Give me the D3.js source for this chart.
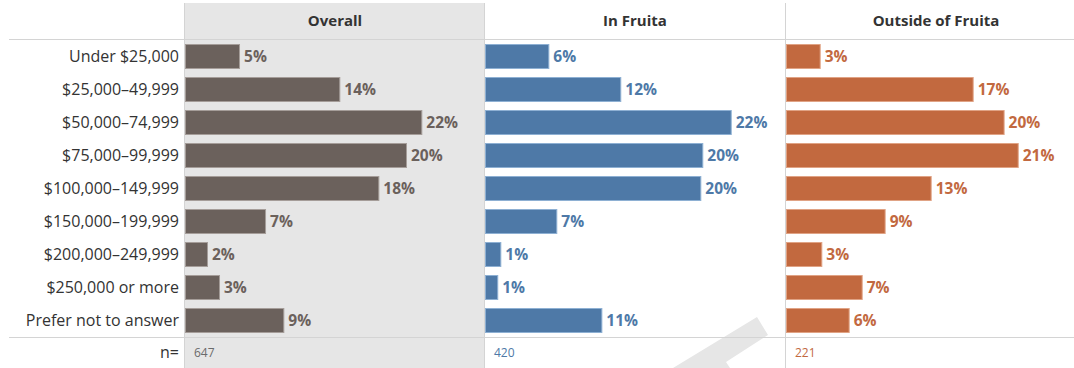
<!DOCTYPE html>
<html><head><meta charset="utf-8">
<script src="https://cdn.jsdelivr.net/npm/d3@7"></script>
<style>
html,body{margin:0;padding:0;background:#fff;}
svg{display:block;}
</style></head>
<body>
<svg id="chart" width="1074" height="368"></svg>
<script>
const categories = ["Under $25,000","$25,000–49,999","$50,000–74,999","$75,000–99,999","$100,000–149,999","$150,000–199,999","$200,000–249,999","$250,000 or more","Prefer not to answer"];
const panels = ["Overall","In Fruita","Outside of Fruita"];
const overallValues = [4.94,14.11,21.61,20.21,17.68,7.32,2.01,3.11,8.99];
const fruitaValues  = [5.79,12.37,22.47,19.87,19.69,6.52,1.40,1.12,10.64];
const outsideValues = [3.08,17.07,19.90,21.19,13.23,9.02,3.23,6.92,5.73];
const nValues = [647,420,221];
const colors = ["#6b615c","#4e79a7","#c2693f"];
const strokeColors = ["#a59d99","#8eb0d3","#e0a385"];

(function(){
const svg = d3.select("#chart");
const font = "'Open Sans', sans-serif";
const topY = 40, rowH = 33, bottomY = topY + rowH*categories.length;
const panelX = [185,485,786], panelW = 300;

const y = d3.scaleBand().domain(categories).range([topY,bottomY]).paddingInner(8/33).paddingOuter(4/33);
const x = d3.scaleLinear().domain([0, panelW/10.935]).range([0, panelW]);

svg.append("rect").attr("x",panelX[0]).attr("y",3).attr("width",panelW).attr("height",368-3).attr("fill","#e6e6e6");
svg.append("path").attr("d","M757,317 L768,335 L726,362 L730,368 L673,368 Z").attr("fill","#e6e6e6");

svg.append("line").attr("x1",9).attr("x2",1074).attr("y1",topY-0.5).attr("y2",topY-0.5).attr("stroke","#d4d4d4");
svg.append("line").attr("x1",9).attr("x2",1074).attr("y1",bottomY+0.5).attr("y2",bottomY+0.5).attr("stroke","#d4d4d4");
panelX.forEach(px=>{
  svg.append("line").attr("x1",px-0.5).attr("x2",px-0.5).attr("y1",3).attr("y2",368).attr("stroke","#d4d4d4");
});

svg.append("g").selectAll("text").data(categories).join("text")
  .attr("x",179).attr("y",d=>y(d)+y.bandwidth()/2-0.5).attr("dy","0.35em")
  .attr("text-anchor","end").attr("font-family",font).attr("font-size",16).attr("fill","#333")
  .text(d=>d);
svg.append("text").attr("x",179).attr("y",(bottomY+368)/2).attr("dy","0.35em")
  .attr("text-anchor","end").attr("font-family",font).attr("font-size",16).attr("fill","#333").text("n=");

const series = [overallValues, fruitaValues, outsideValues];
series.forEach((vals,i)=>{
  const g = svg.append("g").attr("transform",`translate(${panelX[i]},0)`);
  g.append("text").attr("x",panelW/2).attr("y",21).attr("dy","0.35em").attr("text-anchor","middle")
    .attr("font-family",font).attr("font-weight",700).attr("font-size",15).attr("fill","#333").text(panels[i]);
  g.selectAll("rect.bar").data(vals).join("rect").attr("class","bar")
    .attr("x",0.5).attr("y",(d,j)=>y(categories[j])+0.5)
    .attr("width",d=>x(d)).attr("height",y.bandwidth()-1)
    .attr("fill",colors[i]).attr("stroke",strokeColors[i]).attr("stroke-width",1);
  g.selectAll("text.lbl").data(vals).join("text").attr("class","lbl")
    .attr("x",d=>x(d)+5).attr("y",(d,j)=>y(categories[j])+y.bandwidth()/2).attr("dy","0.35em")
    .attr("font-family",font).attr("font-weight",700).attr("font-size",15.5).attr("fill",colors[i])
    .text(d=>Math.round(d)+"%");
  g.append("text").attr("x",9).attr("y",(bottomY+368)/2).attr("dy","0.35em")
    .attr("font-family",font).attr("font-size",12).attr("fill",i===0?"#6b6b6b":colors[i]).text(nValues[i]);
});
})();
</script>
</body></html>
